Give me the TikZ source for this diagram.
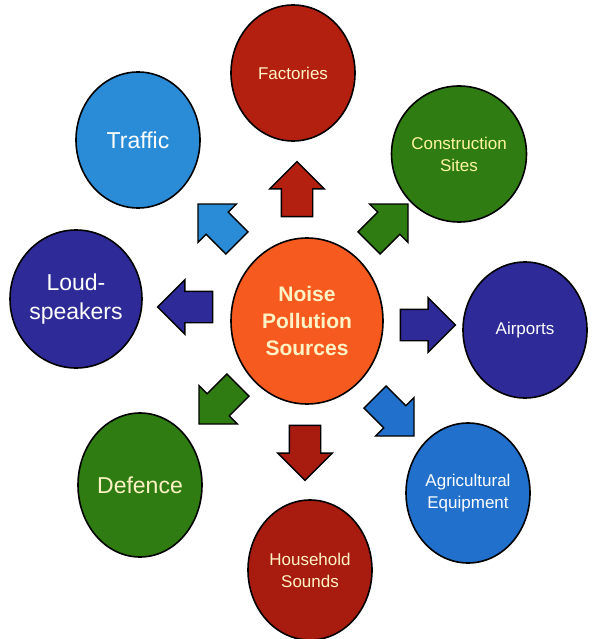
\documentclass[tikz,border=0pt]{standalone}
\usepackage{fontspec}
\setmainfont{Liberation Sans}
\usetikzlibrary{shapes.geometric,shapes.arrows}
\definecolor{noiseorange}{HTML}{F65A1E}
\definecolor{factred}{HTML}{B3200F}
\definecolor{homered}{HTML}{A81C10}
\definecolor{skyblue}{HTML}{2A8BD6}
\definecolor{agriblue}{HTML}{2070CC}
\definecolor{leafgreen}{HTML}{2F7D12}
\definecolor{indigo}{HTML}{2E2B98}
\definecolor{creamtext}{HTML}{FFF3C6}
\begin{document}
\begin{tikzpicture}
[
x=1pt, y=-1pt,
srccircle/.style={ellipse, draw=black, line width=1.6pt, minimum width=124pt, minimum height=136pt, inner sep=0pt, align=center, text=white},
bigtext/.style={font=\fontsize{23}{29}\selectfont},
smalltext/.style={font=\fontsize{17}{22}\selectfont},
outarrow/.style={single arrow, draw=black, line width=1.4pt, minimum height=55pt, minimum width=53pt, single arrow head extend=11.5pt, inner xsep=0pt, inner ysep=15pt, text height=0pt, text depth=0pt}
]
%Background
\useasboundingbox (0,0) rectangle (595,639);
%Nodes
\node[srccircle, fill=noiseorange, minimum width=152pt, minimum height=166pt, text=creamtext, font=\bfseries\fontsize{21}{27}\selectfont] at(307,321) (noise) {Noise\\Pollution\\Sources};
\node[srccircle, smalltext, fill=factred, text=creamtext] at(293,73)	(fact) {Factories};
\node[srccircle, bigtext, fill=skyblue] at(138,140)	(traf) {Traffic};
\node[srccircle, smalltext, fill=leafgreen, text=creamtext!80!yellow] at(459,154)	(cons) {Construction\\Sites};
\node[srccircle, bigtext, fill=indigo, minimum height=138pt] at(76,299)	(loud) {Loud-\\speakers};
\node[srccircle, smalltext, fill=indigo] at(525,330)	(air) {Airports};
\node[srccircle, bigtext, fill=leafgreen, text=creamtext, minimum height=144pt] at(140,485)	(def) {Defence};
\node[srccircle, smalltext, fill=agriblue, minimum height=140pt] at(468,493)	(agri) {Agricultural\\Equipment};
\node[srccircle, smalltext, fill=homered, text=creamtext, minimum height=140pt] at(310,570)	(home) {Household\\Sounds};
%Arrows
\node[outarrow, fill=factred, rotate=90] at(297,197)	(a1) {};
\node[outarrow, fill=leafgreen, rotate=45] at(383,229)	(a2) {};
\node[outarrow, fill=indigo, rotate=0] at(420,325)	(a3) {};
\node[outarrow, fill=agriblue, rotate=-45] at(389,411)	(a4) {};
\node[outarrow, fill=homered, rotate=-90] at(305,445)	(a5) {};
\node[outarrow, fill=leafgreen, rotate=-135] at(224,399)	(a6) {};
\node[outarrow, fill=indigo, rotate=180] at(193,307)	(a7) {};
\node[outarrow, fill=skyblue, rotate=135] at(223,229)	(a8) {};
\end{tikzpicture}
\end{document}
